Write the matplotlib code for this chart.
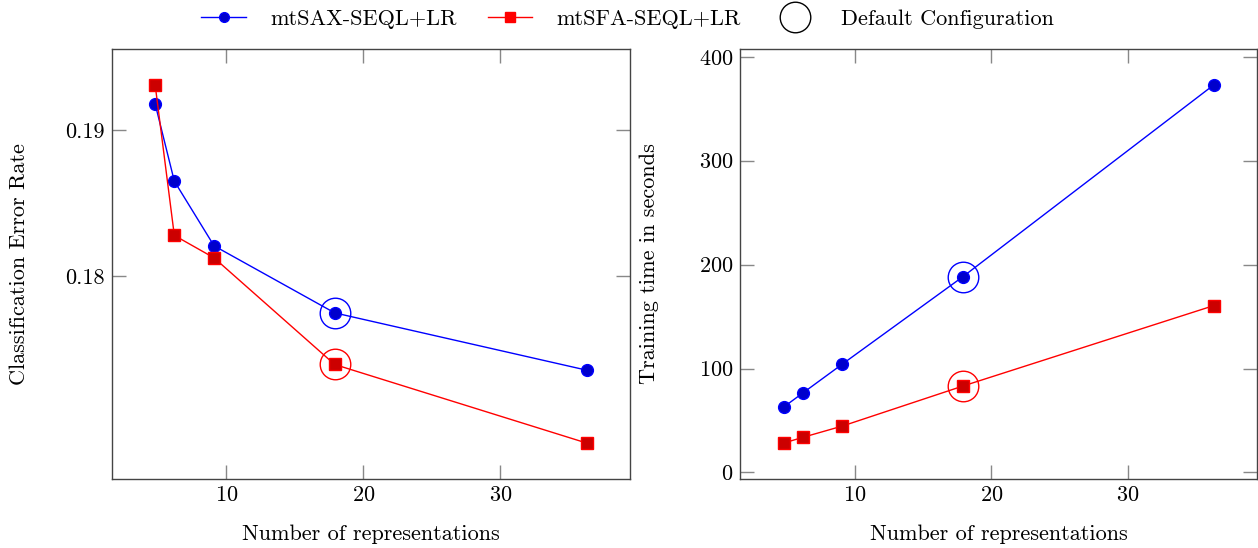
import matplotlib
matplotlib.use("Agg")
import matplotlib.pyplot as plt
from matplotlib.lines import Line2D

plt.rcParams['font.family'] = ['cmr10', 'DejaVu Serif']
plt.rcParams['mathtext.fontset'] = 'cm'
plt.rcParams['axes.formatter.use_mathtext'] = True
plt.rcParams['font.size'] = 16

# numero di rappresentazioni
n_rep = [4.8, 6.2, 9.1, 17.9, 36.3]
# errore di classificazione
err_sax = [0.19177, 0.1865, 0.18209, 0.17752, 0.17361]
err_sfa = [0.19307, 0.1828, 0.18127, 0.1740, 0.16864]
# tempo di training (secondi)
time_sax = [62.8, 76.3, 104.2, 188.1, 373.1]
time_sfa = [28.2, 33.7, 44.6, 83.0, 160.6]
# configurazione di default
default_idx = 3

sax_style = dict(color='blue', marker='o', markersize=8.5, markerfacecolor='#0000cc',
                 markeredgecolor='blue', lw=1.0, label='mtSAX-SEQL+LR')
sfa_style = dict(color='red', marker='s', markersize=8, markerfacecolor='#cc0000',
                 markeredgecolor='red', lw=1.0, label='mtSFA-SEQL+LR')

fig = plt.figure(figsize=(12.58, 5.48), dpi=100)
ax1 = fig.add_axes([0.089, 0.126, 0.4118, 0.7847])
ax2 = fig.add_axes([0.5886, 0.126, 0.4106, 0.7847])

def disegna(ax, y_sax, y_sfa, ylabel):
    ax.plot(n_rep, y_sax, **sax_style)
    ax.plot(n_rep, y_sfa, **sfa_style)
    ax.plot(n_rep[default_idx], y_sax[default_idx], 'o', ms=22, mfc='none', mec='blue', mew=1.0)
    ax.plot(n_rep[default_idx], y_sfa[default_idx], 'o', ms=22, mfc='none', mec='red', mew=1.0)
    ax.margins(0.1)
    ax.set_xticks([10, 20, 30])
    ax.tick_params(direction='in', length=10, width=1, color='#888888',
                   top=True, right=True, pad=5)
    for s in ax.spines.values():
        s.set_color('#444444')
        s.set_linewidth(1.0)
    ax.set_xlabel('Number of representations', labelpad=14)
    ax.set_ylabel(ylabel, labelpad=26)

disegna(ax1, err_sax, err_sfa, 'Classification Error Rate')
ax1.set_yticks([0.18, 0.19])
ax1.set_yticklabels(['0.18', '0.19'])

disegna(ax2, time_sax, time_sfa, 'Training time in seconds')
ax2.set_yticks([0, 100, 200, 300, 400])
ax2.yaxis.labelpad = 29

handles = [
    Line2D([], [], **dict(sax_style, markersize=7)),
    Line2D([], [], **dict(sfa_style, markersize=7, markerfacecolor='red')),
    Line2D([], [], ls='none', marker='o', ms=22, mfc='none', mec='black', mew=1.0,
           label='Default Configuration'),
]
fig.legend(handles=handles, loc='upper center', bbox_to_anchor=(0.499, 1.02), ncol=3,
           frameon=False, handlelength=2.0, handletextpad=1.1, columnspacing=1.4,
           numpoints=1)

fig.savefig('out.png', dpi=100)
